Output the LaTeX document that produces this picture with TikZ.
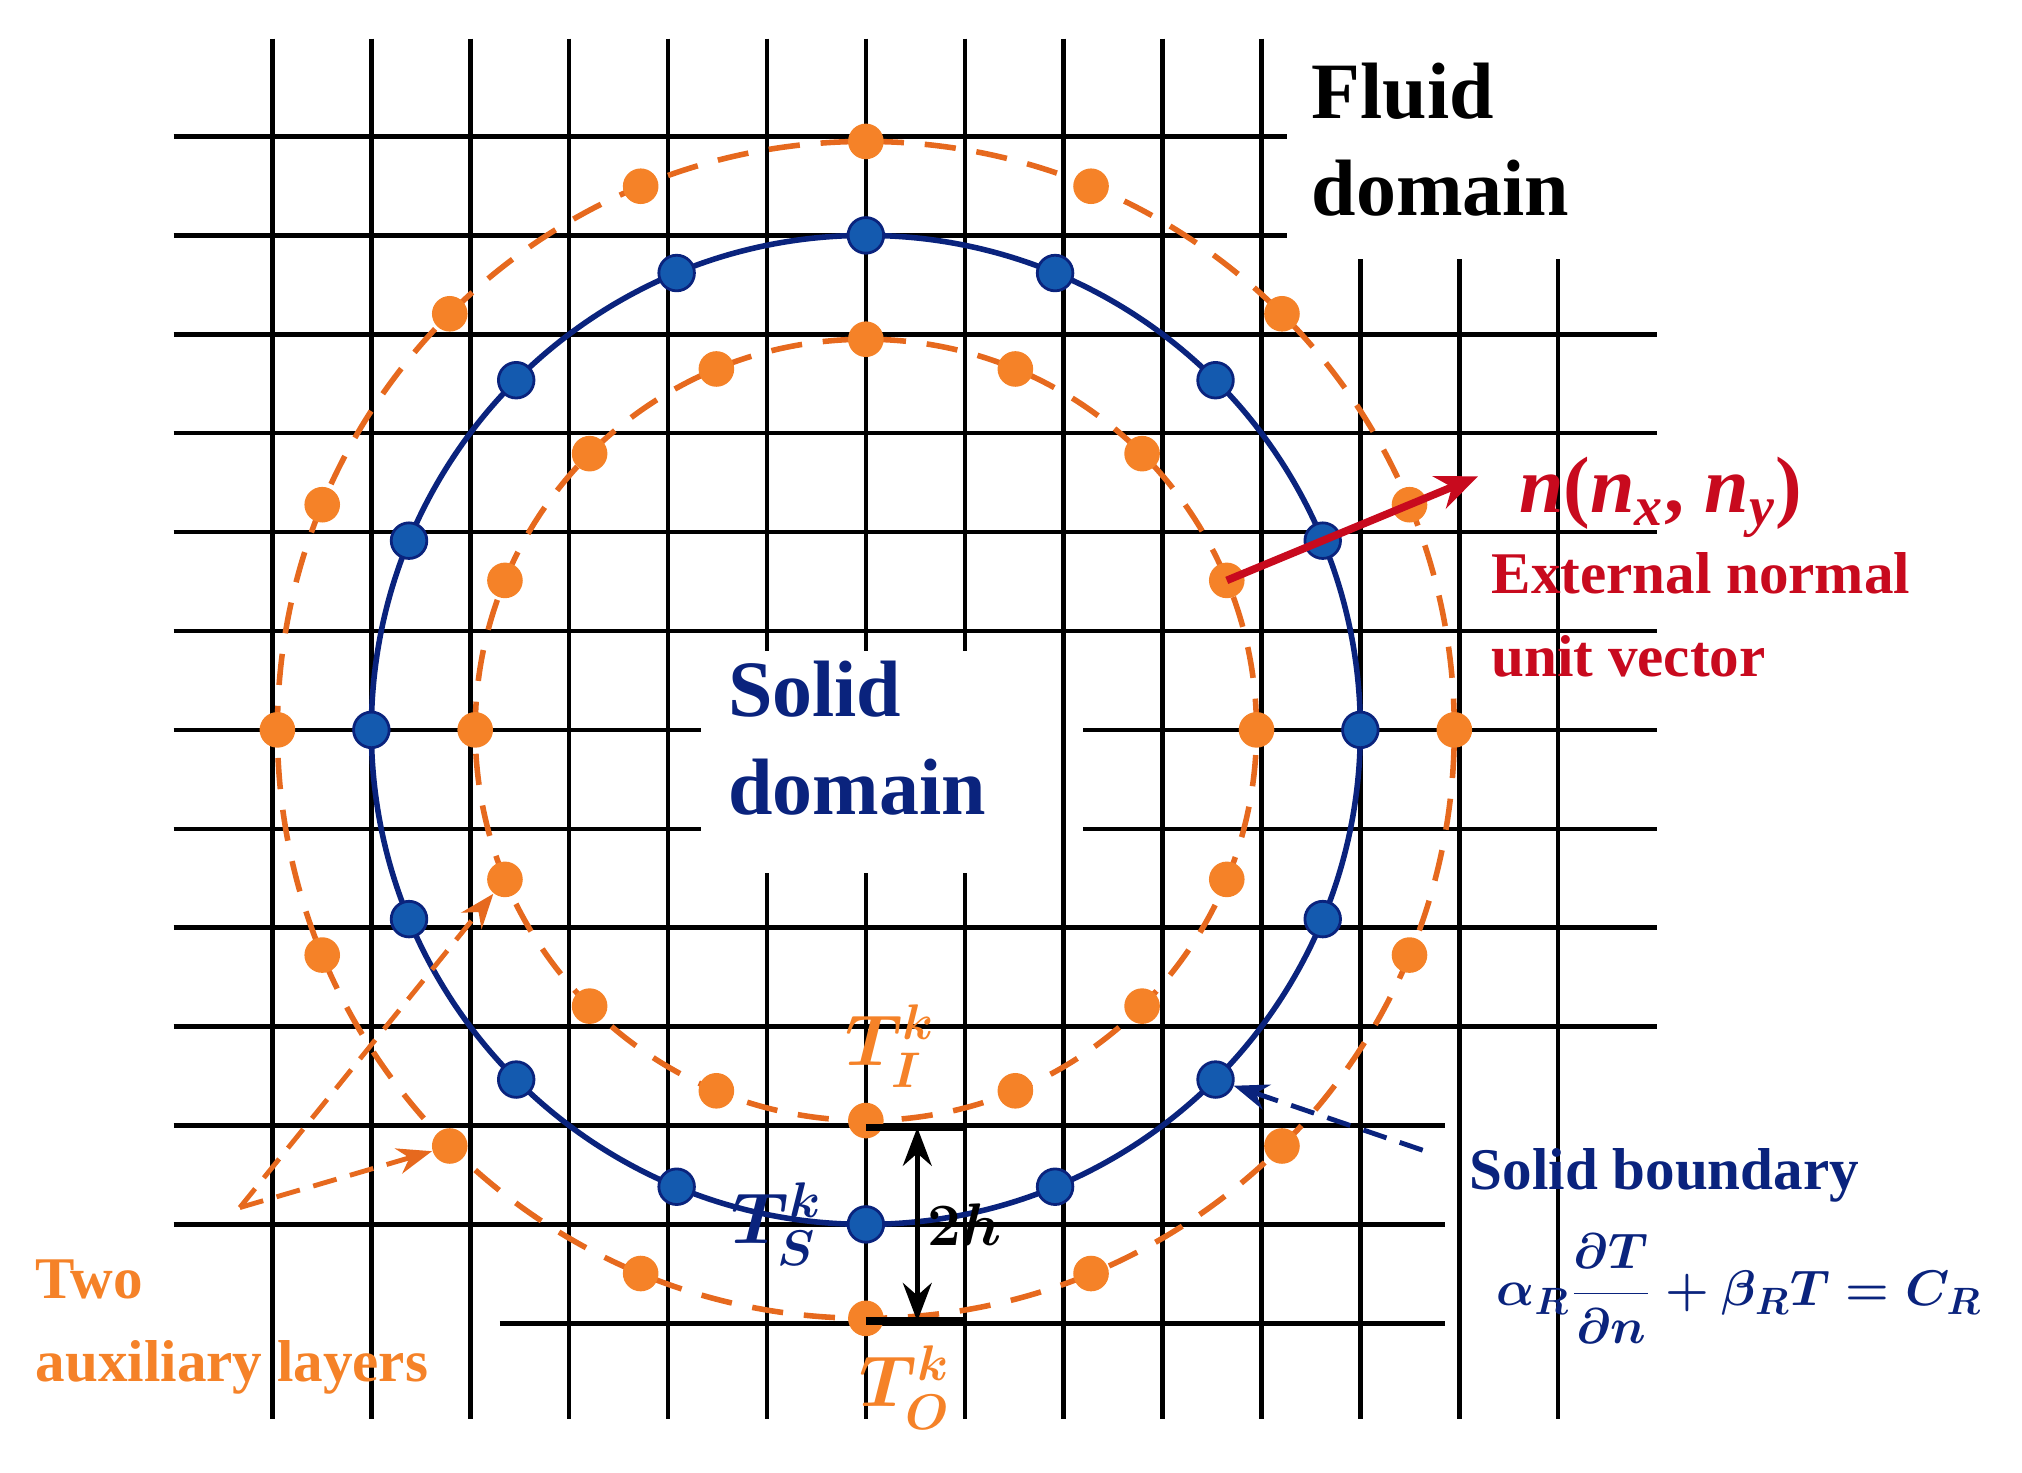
\documentclass[tikz,border=0pt]{standalone}
\usepackage{fontspec}
\setmainfont{Liberation Serif}
\usetikzlibrary{arrows.meta}
\definecolor{org}{RGB}{245,130,40}
\definecolor{orgl}{RGB}{230,105,30}
\definecolor{nav}{RGB}{10,35,125}
\definecolor{bdot}{RGB}{20,90,175}
\definecolor{dred}{RGB}{200,10,30}
\tikzset{
 gl/.style={black,line width=1.3pt},
 odot/.style={circle,fill=org,inner sep=0pt,minimum size=0.36cm},
 bd/.style={circle,fill=bdot,draw=nav,line width=0.8pt,inner sep=0pt,minimum size=0.36cm},
 lab/.style={font=\bfseries\fontsize{23}{28}\selectfont,align=left,inner sep=0pt},
 slab/.style={font=\bfseries\fontsize{17}{24}\selectfont,align=left,inner sep=0pt},
 mth/.style={font=\mathversion{bold}\fontsize{#1}{#1}\selectfont,inner sep=0pt},
 pdash/.style={dash pattern=on 7pt off 4pt,line width=1.4pt}
}
\begin{document}
\begin{tikzpicture}
\useasboundingbox (-8.755,-7.51) rectangle (11.69,7.38);
% horizontal grid
\foreach \y/\a/\b in {6/-7/4.26,5/-7/4.26,4/-7/8,3/-7/8,2/-7/8,1/-7/8,-2/-7/8,-3/-7/8,-4/-7/5.86,-5/-7/5.86}
  \draw[gl] (\a,\y) -- (\b,\y);
\draw[gl] (-7,0) -- (-1.67,0); \draw[gl] (2.2,0) -- (8,0);
\draw[gl] (-7,-1) -- (-1.67,-1); \draw[gl] (2.2,-1) -- (8,-1);
\draw[gl] (-3.7,-6) -- (5.86,-6);
% vertical grid
\foreach \x in {-6,-5,-4,-3,-2,2,3,4}
  \draw[gl] (\x,6.99) -- (\x,-6.97);
\foreach \x in {-1,0,1}
  {\draw[gl] (\x,6.99) -- (\x,0.8); \draw[gl] (\x,-1.45) -- (\x,-6.97);}
\foreach \x in {5,6,7}
  \draw[gl] (\x,4.76) -- (\x,-6.97);
% circles
\draw[orgl,dash pattern=on 9pt off 6pt,line width=1.6pt] (0,0) circle (5.95);
\draw[orgl,dash pattern=on 9pt off 6pt,line width=1.6pt] (0,0) circle (3.95);
\draw[nav,line width=1.6pt] (0,0) circle (5);
\foreach \i in {0,...,15} {
  \node[odot] (o\i) at (\i*22.5:5.95) {};
  \node[odot] (n\i) at (\i*22.5:3.95) {};
  \node[bd] (b\i) at (\i*22.5:5) {};
}
% normal vector
\coordinate (ntip) at (22.5:6.7);
\draw[dred,line width=2.2pt,-{Stealth[length=12pt,width=10pt]}] (n1.center) -- (ntip);
\node[lab,text=dred,anchor=west] (nlab) at (6.6,2.35) {\textit{n}{(}\textit{n}\textsubscript{\textit{x}}, \textit{n}\textsubscript{\textit{y}}{)}};
\node[slab,text=dred,anchor=north west] (ext) at (6.32,1.8) {External normal\\unit vector};
% labels
\node[lab,anchor=north west] (fluid) at (4.5,6.75) {Fluid\\domain};
\node[lab,text=nav,anchor=north west] (solid) at (-1.4,0.7) {Solid\\domain};
\node[slab,text=nav,anchor=west] (sb) at (6.1,-4.5) {Solid boundary};
\node[mth=15,text=nav] (form) at (8.83,-5.65) {\(\displaystyle\alpha_R\frac{\partial T}{\partial n}+\beta_R T=C_R\)};
\node[slab,text=org,anchor=north west] (two) at (-8.4,-5.35) {Two\\auxiliary layers};
\node[mth=21,text=org] (ti) at (0.25,-3.2) {\(T_I^k\)};
\node[mth=21,text=nav] (ts) at (-0.9,-5.0) {\(T_S^k\)};
\node[mth=21,text=org] (to) at (0.4,-6.65) {\(T_O^k\)};
\node[mth=18] (h2) at (1.0,-5.0) {\(2h\)};
% 2h marker
\draw[black,line width=2.2pt] (0,-4.02) -- (1,-4.02);
\draw[black,line width=2.2pt] (0,-5.98) -- (1,-5.98);
\coordinate (ha) at (0.52,-4.02); \coordinate (hb) at (0.52,-5.98);
\draw[black,line width=1.6pt,{Stealth[length=11pt]}-{Stealth[length=11pt]}] (ha) -- (hb);
% dashed pointer arrows
\coordinate (sbs) at (5.63,-4.25);
\draw[nav,pdash,-{Stealth[length=10pt]}] (sbs) -- (b14);
\coordinate (tws) at (-6.33,-4.83);
\draw[orgl,pdash,-{Stealth[length=10pt]}] (tws) -- (n9);
\draw[orgl,pdash,-{Stealth[length=10pt]}] (tws) -- (o10);
\end{tikzpicture}
\end{document}
